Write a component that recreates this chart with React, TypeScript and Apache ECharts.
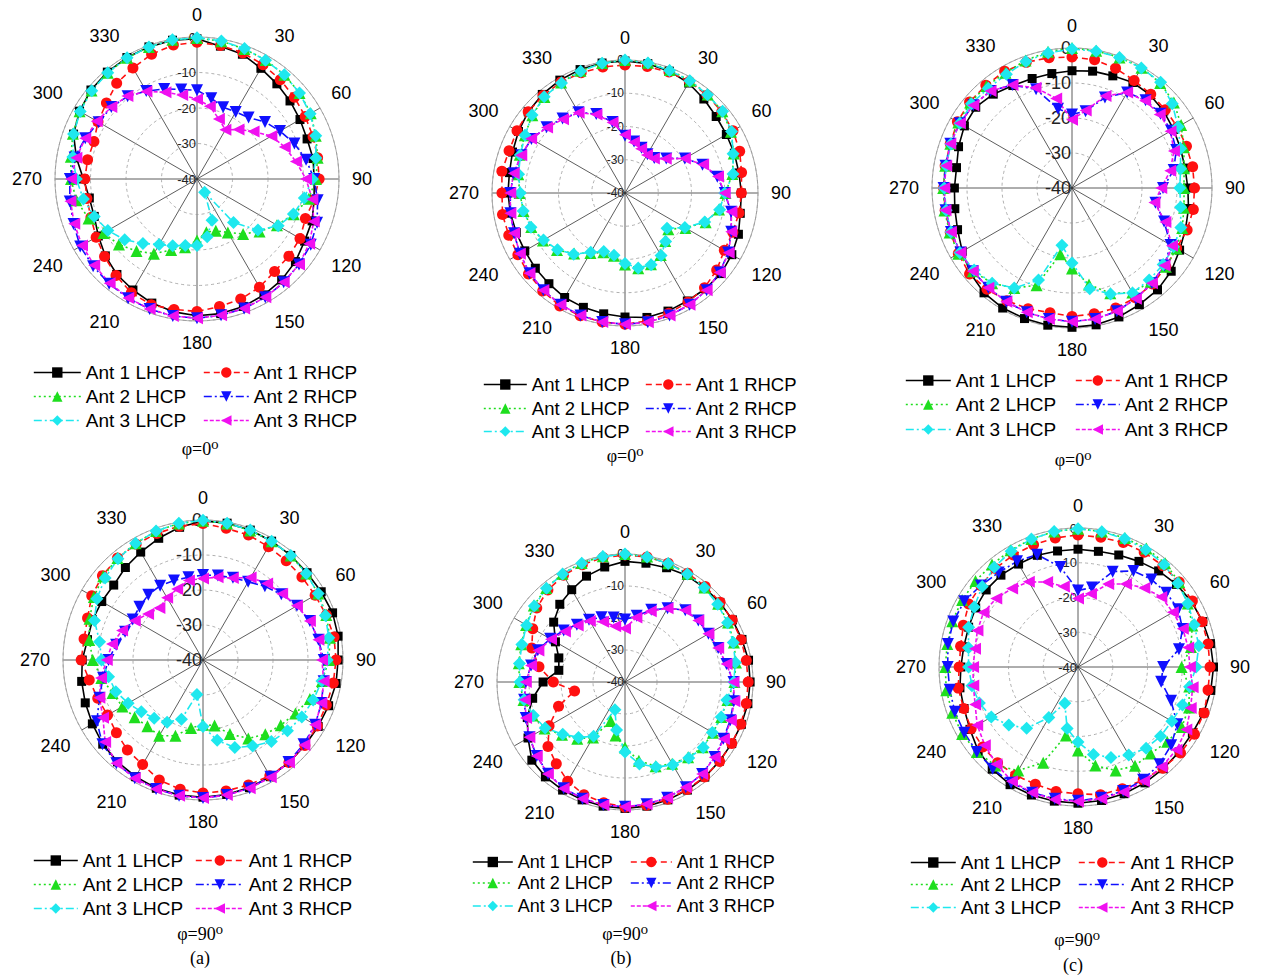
import { useEffect, useRef } from 'react';
import * as echarts from 'echarts';

// Sample angles (deg) and axis ticks
const angles = [0, 10, 20, 30, 40, 50, 60, 70, 80, 90, 100, 110, 120, 130, 140, 150, 160, 170, 180, 190, 200, 210, 220, 230, 240, 250, 260, 270, 280, 290, 300, 310, 320, 330, 340, 350];
const angleTicks = [0, 30, 60, 90, 120, 150, 180, 210, 240, 270, 300, 330];
const radialTicks = [-40, -30, -20, -10, 0];
const seriesNames = ['Ant 1 LHCP', 'Ant 1 RHCP', 'Ant 2 LHCP', 'Ant 2 RHCP', 'Ant 3 LHCP', 'Ant 3 RHCP'];
const captions = ['φ=0⁰', 'φ=0⁰', 'φ=0⁰', 'φ=90⁰', 'φ=90⁰', 'φ=90⁰'];
const subfigureTags = ['(a)', '(b)', '(c)'];

// (a) phi = 0
const a0Ant1L = [-0.5, -2, -2.6, -4, -5, -5.8, -6.5, -7, -6.8, -7, -6.5, -5.5,
  -5, -3.8, -2.9, -2.3, -1.8, -1.5, -1.5, -2, -2.8, -3.9, -4.9, -6.3,
  -7.9, -9.2, -9.2, -8, -5.5, -3, -1.8, -1, -0.7, -0.5, -0.4, -0.3];
const a0Ant1R = [-1.5, -1.8, -2.2, -2.8, -3.5, -4.2, -4.8, -5.2, -5.5, -5.6, -6.5, -7.5,
  -6.5, -6.2, -6, -4.8, -4, -3.5, -2.7, -2.7, -2.3, -3, -4.5, -6,
  -7.2, -8.2, -8.5, -8.4, -8.7, -9.1, -7.8, -6.7, -4.8, -3.9, -2.6, -1.7];
const a0Ant2L = [-0.3, -0.6, -1, -1.3, -1.7, -2.3, -3, -4.4, -5.5, -6.5, -8, -11,
  -14, -17, -19.8, -22.6, -24.5, -24.8, -22.7, -20.5, -18.7, -15.7, -13.5, -11.3,
  -9.6, -7.5, -5.5, -4.5, -3.9, -2.8, -1.8, -1.2, -0.9, -0.6, -0.4, -0.2];
const a0Ant2R = [-15, -16.9, -18.5, -18.2, -17.4, -15, -13, -10.8, -8.8, -7, -5.5, -4,
  -3, -2.5, -2, -1.5, -1.2, -1, -0.8, -0.8, -1, -1.2, -1.5, -1.8,
  -2, -3, -3.6, -4.2, -5, -6.5, -8, -8.5, -9.6, -11.4, -13, -14.4];
const a0Ant3L = [-0.2, -0.5, -0.9, -1.4, -1.7, -2.3, -3.2, -4.4, -6, -7.5, -9.3, -11.1,
  -13.6, -17.6, -24, -35.7, -27.6, -23.5, -21.3, -21, -20, -18.7, -16.3, -13.4,
  -11, -9.2, -7.5, -6, -4.5, -3, -2, -1.3, -0.9, -0.6, -0.4, -0.2];
const a0Ant3R = [-17.5, -19.2, -22, -24, -21.8, -19.2, -15.8, -13.7, -11.7, -9.3, -7, -5,
  -3.5, -2.5, -2, -1.5, -1.2, -1, -0.8, -0.8, -1, -1.3, -1.7, -2.2,
  -2.6, -3.2, -3.8, -4.5, -5.5, -6.5, -7.4, -8.5, -9.5, -11.5, -14, -16];

// (b) phi = 0
const b0Ant1L = [-0.3, -0.5, -1, -1.8, -3.1, -4.2, -4.8, -5, -5.2, -5, -4.8, -3.7,
  -2.9, -2.3, -2.4, -2.5, -2.2, -2, -2.7, -3.1, -3.4, -3.7, -4.4, -4.8,
  -5.2, -5.2, -5, -4.8, -4.7, -4, -3, -2, -1.3, -0.8, -0.5, -0.3];
const b0Ant1R = [-1.5, -1.4, -1.3, -1.3, -1.6, -2, -2.5, -3.3, -4.4, -5, -5.2, -5.5,
  -5.5, -4, -2.8, -2.1, -1.5, -1, -0.5, -0.6, -0.7, -0.8, -1.5, -2.1,
  -2.8, -2.8, -2.6, -3, -2.4, -2.9, -2.5, -2, -1.7, -1.5, -1.5, -1.5];
const b0Ant2L = [0, -0.2, -0.6, -1, -1.3, -1.8, -3.2, -5.2, -7.2, -9.8, -11.3, -14.2,
  -19, -23, -21.2, -18.5, -17.2, -17, -18.5, -20.8, -21, -19.2, -16.2, -13.3,
  -11.5, -10, -9, -8.3, -7.4, -6.3, -5.2, -3.6, -2.3, -1.6, -0.9, -0.3];
const b0Ant2R = [-22.8, -24.3, -25.5, -26.5, -26.3, -23.8, -19.2, -15.2, -11.8, -10, -7.6, -6,
  -4.2, -2.8, -1.8, -1.2, -0.8, -0.5, -0.5, -0.6, -0.8, -1.2, -1.8, -2.5,
  -3.5, -4.5, -5, -5.5, -6, -6.8, -7.5, -9.2, -10.8, -12, -14.7, -18.3];
const b0Ant3L = [0, -0.3, -0.8, -1, -1.4, -1.7, -3, -5.4, -7, -10, -11.1, -14.5,
  -19.2, -23.5, -21, -18.3, -17, -17.1, -18.8, -21, -21.3, -19.4, -16, -13.5,
  -11.7, -9.9, -8.9, -8.5, -7.5, -6.5, -5.3, -3.5, -2.2, -1.8, -1, -0.4];
const b0Ant3R = [-22.5, -24.5, -25.8, -26.8, -26.5, -24, -19.2, -15, -11.6, -10, -7.5, -6,
  -4, -2.8, -1.8, -1.2, -0.8, -0.5, -0.5, -0.6, -0.8, -1.2, -1.8, -2.5,
  -3.5, -4.5, -5, -5.5, -6, -6.8, -7.4, -9.4, -11, -12.1, -14.9, -18.5];

// (c) phi = 0
const c0Ant1L = [-6.5, -6.1, -5.9, -5.2, -5.3, -5.8, -6.5, -7, -7.2, -6.9, -6.2, -5.5,
  -4.5, -3, -2, -1.5, -0.8, -0.3, -0.2, -0.2, -0.3, -0.4, -0.9, -2.1,
  -3.8, -5.2, -6, -6.4, -6.5, -5.5, -4.5, -4.1, -5, -6.2, -6.7, -6.8];
const c0Ant1R = [-2.6, -2.8, -3.6, -4.5, -5, -5.2, -5.2, -5.2, -5, -5, -4.8, -5,
  -5.5, -5, -4.2, -3.8, -3.5, -3.5, -3.3, -3.8, -3.3, -2.8, -2.2, -1.8,
  -2.5, -3, -3.2, -3.3, -3.2, -3, -2.2, -1.8, -1.7, -1.5, -1.8, -2.2];
const c0Ant2L = [0, -0.2, -0.3, -0.3, -0.8, -2, -4, -6, -7.5, -8, -7.5, -6.5,
  -5.5, -5, -5, -5.5, -8, -12, -17, -20.8, -10.4, -7, -4.5, -3,
  -2.5, -2.8, -3, -3.2, -3.2, -3, -2.5, -2, -2, -2, -1.2, -0.5];
const c0Ant2R = [-19, -17.7, -12.5, -8.5, -7.3, -7, -7.3, -8.3, -10.5, -14, -15.8, -12,
  -7.5, -5.5, -4.5, -3.5, -2.5, -2, -1.8, -2, -2.2, -2.5, -2.8, -3,
  -3.2, -3.2, -3.3, -3.3, -3.3, -3, -3, -3.2, -3.8, -6, -10, -17];
const c0Ant3L = [-0.3, -0.3, -0.3, -0.4, -0.6, -2.6, -5, -7, -8.5, -9.2, -8.5, -6.9,
  -6.5, -6, -5.7, -5.4, -7.8, -10.8, -18.6, -23.4, -12, -7, -4.5, -3.5,
  -3, -3.2, -3.5, -3.5, -3.5, -3.2, -3, -2.5, -2.8, -2.5, -1.5, -0.8];
const c0Ant3R = [-20.5, -17.5, -12, -8.5, -7.5, -7.3, -7.5, -9, -11.5, -14.5, -16.1, -11.6,
  -7, -5.5, -4.5, -3.5, -2.5, -2, -1.8, -2, -2.2, -2.5, -2.8, -3,
  -3.2, -3.2, -3.3, -3.5, -3.5, -3, -3, -3.2, -3.8, -6, -9.5, -14];

// (a) phi = 90
const a9Ant1L = [-0.3, -0.3, -0.5, -0.8, -1, -1.2, -1, -0.6, -0.8, -1.4, -1.4, -1.8,
  -2, -2, -1.8, -1.5, -1.2, -1, -0.8, -0.8, -1, -1.5, -2, -2.6,
  -3.5, -4.2, -4.8, -5.5, -6.5, -6.4, -6.6, -6.7, -5.5, -4.4, -3, -1.5];
const a9Ant1R = [-1, -1.8, -2, -2.6, -3, -3.1, -3, -2.5, -2, -2, -2.2, -2.5,
  -2.3, -2, -1.8, -1.8, -2, -2, -2, -2.5, -3.5, -5.5, -6.4, -7.7,
  -8.5, -8, -7, -5.2, -5.5, -4.9, -3.3, -2.5, -2, -1.8, -1.5, -1.2];
const a9Ant2L = [-0.2, -0.4, -0.6, -0.8, -1, -1.5, -2, -2.5, -3.2, -4, -5.5, -7.5,
  -9.5, -11, -12.3, -14.1, -17.5, -21, -21.5, -20.3, -17, -15, -15.3, -14.5,
  -13.4, -12.5, -10.5, -8.5, -7, -5.5, -4, -2.8, -2, -1.5, -0.8, -0.4];
const a9Ant2R = [-15.7, -15.5, -15, -14.2, -12.5, -10.8, -9, -7.5, -6.5, -5.5, -5, -4,
  -3, -2.5, -2, -1.5, -1, -0.8, -0.6, -0.6, -0.8, -1, -1.5, -2.5,
  -5, -8.5, -11, -13, -14.8, -16.3, -16.8, -16.3, -15.7, -15.5, -15.8, -16];
const a9Ant3L = [-0.1, -0.3, -0.5, -0.8, -1, -1.5, -2, -2.8, -3.5, -4.5, -5.5, -6.5,
  -7.4, -8.5, -9.6, -11.6, -13.4, -16.7, -21, -30, -22, -19.5, -18.3, -17,
  -15.3, -13.5, -12.6, -11, -10, -7, -5, -3.5, -2.2, -1.5, -0.8, -0.3];
const a9Ant3R = [-16.7, -16, -15.1, -12.8, -11.5, -10.5, -9, -7.5, -6.5, -6, -5, -4,
  -3, -2.2, -1.8, -1.3, -1, -0.8, -0.6, -0.6, -0.8, -1, -1.5, -3.5,
  -7, -8.5, -10.4, -12.5, -13.6, -15.4, -17.5, -19.5, -20.6, -19.5, -18.4, -16.9];

// (b) phi = 90
const b9Ant1L = [-2.3, -2.3, -2, -1.5, -1.5, -1.3, -1.2, -1.1, -0.8, -0.9, -1, -1.3,
  -1.5, -1.5, -1.2, -1, -0.8, -0.6, -0.5, -0.6, -0.8, -1, -1.3, -2,
  -5, -7.5, -10.7, -14.4, -19, -18, -14.9, -10.9, -8.3, -6.7, -4.8, -3.5];
const b9Ant1R = [-0.3, -0.3, -0.5, -0.8, -1, -1.2, -1.3, -1.4, -1.5, -1.5, -1.5, -1.5,
  -1.5, -1.4, -1.3, -1.2, -1, -0.9, -0.9, -1.7, -2.5, -4.2, -6.6, -8.6,
  -12.6, -17.9, -24, -17.6, -12.7, -9, -6.7, -4, -2.5, -1.5, -1, -0.5];
const b9Ant2L = [0, -0.2, -0.5, -0.9, -1.4, -2, -2.8, -3.8, -4.8, -5.8, -7.5, -8,
  -8.3, -8.3, -9.3, -10.5, -12, -15, -19.5, -23, -27, -20, -16.8, -14.3,
  -11, -9.3, -7.8, -7, -6.3, -5.5, -4.3, -2.8, -1.7, -0.9, -0.4, -0.1];
const b9Ant2R = [-20.5, -19, -16, -13.4, -10.7, -10.1, -9.9, -9, -7.8, -6.1, -5.5, -5,
  -4.5, -3.5, -2.5, -2, -1.5, -1.2, -1, -1, -1.2, -1.7, -2.6, -4,
  -5.5, -7, -8, -9, -10.2, -11, -13, -15, -16.6, -17.5, -18.5, -19.5];
const b9Ant3L = [0, -0.3, -0.6, -1, -1.5, -2.2, -3, -4, -5, -6, -7.7, -8,
  -8.5, -8.1, -9, -10.1, -11.7, -14, -18.1, -24.8, -30.8, -20.4, -17.4, -14.6,
  -11.2, -9.5, -8, -7.2, -6.5, -5.7, -4.5, -3, -1.8, -1, -0.5, -0.2];
const b9Ant3R = [-23.3, -19.5, -16.5, -13.4, -10.7, -10.1, -9.9, -9, -7.8, -6.1, -5.3, -4.8,
  -4.3, -3.4, -2.5, -2, -1.5, -1.2, -1, -1, -1.2, -1.6, -2.5, -4,
  -5.5, -7.1, -8.2, -9, -10.2, -11.2, -13.3, -15.5, -17, -18, -20, -22.3];

// (c) phi = 90
const c9Ant1L = [-6.1, -6.2, -5.7, -4.9, -3.9, -3, -2.3, -1.8, -1.3, -1, -1.2, -1.5,
  -2, -2, -1.8, -1.5, -1.2, -1, -0.8, -0.8, -0.8, -0.9, -1.6, -2.5,
  -4.1, -5.1, -5.5, -6.3, -6.6, -6.5, -6, -5.5, -5.5, -5.8, -5.8, -6.1];
const c9Ant1R = [-2, -2.1, -1.9, -1.9, -2, -2, -2, -2, -2, -2, -2, -1.4,
  -1.3, -1.5, -2, -2.5, -2.7, -2.7, -3.5, -3.6, -4.1, -4, -4, -4.2,
  -4.5, -5, -5, -5.8, -5.7, -4.9, -3.7, -3.5, -3, -2.8, -2.6, -2.3];
const c9Ant2L = [-0.2, -0.4, -0.5, -0.6, -1, -2, -3.5, -5, -7, -10.2, -7.5, -6,
  -5.5, -6.5, -7.5, -7.2, -8.3, -11.2, -16, -20, -10.7, -5.6, -3, -2,
  -1.5, -1.5, -1.5, -1.8, -1.8, -1.5, -1.5, -1.5, -1.5, -1.2, -0.8, -0.4];
const c9Ant2R = [-18, -16.8, -10.8, -8.1, -7.1, -6.8, -6.7, -8, -10.5, -15.5, -15.7, -11.5,
  -7, -5, -3.5, -2.5, -2, -1.8, -1.5, -1.5, -1.5, -1.5, -1.8, -2,
  -2.2, -2.3, -2.5, -2.5, -2, -1.8, -2.2, -3.5, -4.5, -4.9, -5.6, -10.8];
const c9Ant3L = [-0.2, -0.5, -0.7, -1, -1.5, -2.5, -3.5, -4.4, -4.7, -6, -7.4, -8,
  -8.8, -9, -9.5, -10.8, -12.3, -14.4, -18.4, -22, -28.9, -23.2, -17, -14,
  -11.2, -9.8, -9, -8.5, -8, -6.5, -5.5, -4, -2.5, -1.5, -0.8, -0.4];
const c9Ant3R = [-20.3, -18.6, -14.6, -12.4, -10.3, -8.7, -8.5, -7.9, -7.8, -7.8, -6.5, -5.5,
  -4, -3, -2.5, -2, -1.7, -1.5, -1.3, -1.3, -1.5, -2, -3.5, -5,
  -6.5, -8.5, -9.4, -9.8, -9.9, -9.2, -8.6, -9.3, -10.5, -11.7, -14, -16.5];

const panelData = [
  [a0Ant1L, a0Ant1R, a0Ant2L, a0Ant2R, a0Ant3L, a0Ant3R],
  [b0Ant1L, b0Ant1R, b0Ant2L, b0Ant2R, b0Ant3L, b0Ant3R],
  [c0Ant1L, c0Ant1R, c0Ant2L, c0Ant2R, c0Ant3L, c0Ant3R],
  [a9Ant1L, a9Ant1R, a9Ant2L, a9Ant2R, a9Ant3L, a9Ant3R],
  [b9Ant1L, b9Ant1R, b9Ant2L, b9Ant2R, b9Ant3L, b9Ant3R],
  [c9Ant1L, c9Ant1R, c9Ant2L, c9Ant2R, c9Ant3L, c9Ant3R],
];

// Placement of each polar panel, its legend rows/columns and caption
const panelLayout = [
  { cx: 197, cy: 179, r: 142, radialFont: 13, legendFont: 19, rows: [373, 397, 421], cols: [[33, 47], [203, 45]], caption: [200, 449] },
  { cx: 625, cy: 193, r: 133, radialFont: 12, legendFont: 18.5, rows: [385, 409, 432], cols: [[483, 43], [645, 45]], caption: [625, 456] },
  { cx: 1072, cy: 188, r: 140, radialFont: 18, legendFont: 19, rows: [381, 405, 430], cols: [[905, 45], [1075, 44]], caption: [1073, 460] },
  { cx: 203, cy: 660, r: 140, radialFont: 18, legendFont: 19, rows: [861, 885, 909], cols: [[33, 44], [195, 48]], caption: [200, 934], tag: [200, 958] },
  { cx: 625, cy: 682, r: 128, radialFont: 12, legendFont: 18, rows: [863, 884, 907], cols: [[472, 40], [630, 41]], caption: [625, 934], tag: [621, 958] },
  { cx: 1078, cy: 667, r: 139, radialFont: 13, legendFont: 19, rows: [863, 885, 908], cols: [[910, 45], [1078, 47]], caption: [1077, 940], tag: [1073, 965] },
];

const seriesLook = [
  { color: '#000000', dash: 'solid', symbol: 'rect', size: 9, rotate: 0 },
  { color: '#ff1010', dash: [6, 4], symbol: 'circle', size: 11, rotate: 0 },
  { color: '#1ede1e', dash: [2, 3], symbol: 'triangle', size: 12, rotate: 0 },
  { color: '#1010ff', dash: [8, 3, 2, 3], symbol: 'triangle', size: 12, rotate: 180 },
  { color: '#1ee8ee', dash: [8, 3, 2, 3], symbol: 'diamond', size: 13, rotate: 0 },
  { color: '#f010f0', dash: [4, 2], symbol: 'triangle', size: 12, rotate: 90 },
];

const SANS = 'Liberation Sans, Arial, Helvetica, sans-serif';
const SERIF = 'Liberation Serif, Times New Roman, DejaVu Serif, serif';

export default function App() {
  const ref = useRef<HTMLDivElement>(null);

  useEffect(() => {
    if (!ref.current) return;
    const chart = echarts.init(ref.current, undefined, { renderer: 'svg' });

    const polar: any[] = [];
    const angleAxis: any[] = [];
    const radiusAxis: any[] = [];
    const series: any[] = [];
    const legend: any[] = [];
    const graphic: any[] = [];

    const angleStep = angleTicks[1] - angleTicks[0];
    const radialStep = radialTicks[1] - radialTicks[0];

    panelData.forEach((curves, i) => {
      const L = panelLayout[i];
      polar.push({ center: [L.cx, L.cy], radius: L.r });
      angleAxis.push({
        polarIndex: i,
        type: 'value',
        min: angleTicks[0],
        max: angleTicks[0] + 360,
        interval: angleStep,
        startAngle: 90,
        clockwise: true,
        axisLine: { show: true, lineStyle: { color: '#a8a8a8', width: 1 } },
        axisTick: { show: false },
        axisLabel: { show: true, margin: 13, fontSize: 18, color: '#000', fontFamily: SANS },
        splitLine: { show: true, lineStyle: { color: '#333', width: 0.8 } },
      });
      radiusAxis.push({
        polarIndex: i,
        type: 'value',
        min: radialTicks[0],
        max: radialTicks[radialTicks.length - 1],
        interval: radialStep,
        axisLine: { show: false },
        axisTick: { show: false },
        axisLabel: { show: true, margin: 1, fontSize: L.radialFont, color: '#222', fontFamily: SANS },
        splitLine: { show: true, lineStyle: { color: '#9a9a9a', type: [3, 3], width: 0.8 } },
        z: 1,
      });

      curves.forEach((vals, s) => {
        const look = seriesLook[s];
        const data: any[] = angles.map((a, k) => [vals[k], a]);
        data.push({ value: [vals[0], 360], symbol: 'none' });
        series.push({
          type: 'line',
          name: seriesNames[s],
          coordinateSystem: 'polar',
          polarIndex: i,
          data,
          symbol: look.symbol,
          symbolSize: look.size,
          symbolRotate: look.rotate,
          showAllSymbol: true,
          lineStyle: { color: look.color, width: 1.6, type: look.dash },
          itemStyle: { color: look.color },
          emphasis: { disabled: true },
          silent: true,
        });
      });

      seriesNames.forEach((name, s) => {
        const col = s % 2;
        const row = Math.floor(s / 2);
        const [left, w] = L.cols[col];
        legend.push({
          data: [name],
          left,
          top: L.rows[row] - 10,
          padding: 0,
          itemWidth: w,
          itemHeight: 13,
          itemGap: 0,
          selectedMode: false,
          lineStyle: { width: 1.6 },
          textStyle: { fontSize: L.legendFont, color: '#000', fontFamily: SANS },
        });
      });

      graphic.push({
        type: 'text',
        x: L.caption[0],
        y: L.caption[1],
        style: { text: captions[i], fontSize: 18, fontFamily: SERIF, fill: '#000', align: 'center', verticalAlign: 'middle' },
      });
      if (L.tag) {
        graphic.push({
          type: 'text',
          x: L.tag[0],
          y: L.tag[1],
          style: { text: subfigureTags[i - 3], fontSize: 18, fontFamily: SERIF, fill: '#000', align: 'center', verticalAlign: 'middle' },
        });
      }
    });

    chart.setOption({
      animation: false,
      backgroundColor: '#ffffff',
      polar,
      angleAxis,
      radiusAxis,
      legend,
      series,
      graphic,
    });

    return () => {
      chart.dispose();
    };
  }, []);

  return (
    <div
      ref={ref}
      style={{ position: 'absolute', left: 0, top: 0, width: 1269, height: 975, background: '#fff' }}
    />
  );
}
